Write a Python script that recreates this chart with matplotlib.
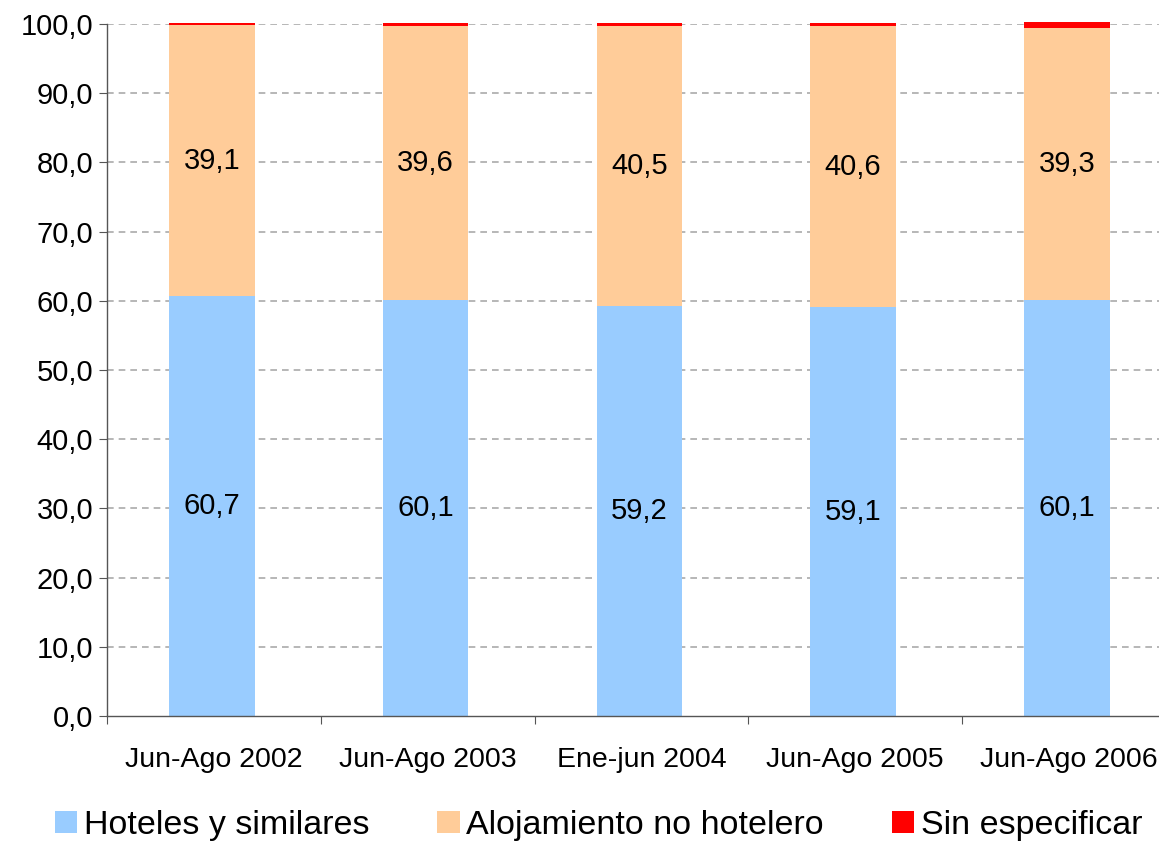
import matplotlib
matplotlib.use("Agg")
import matplotlib.pyplot as plt
import numpy as np
from matplotlib.patches import Patch

plt.rcParams['font.family'] = ['Liberation Sans', 'DejaVu Sans']

categories = ["Jun-Ago 2002", "Jun-Ago 2003", "Ene-jun 2004", "Jun-Ago 2005", "Jun-Ago 2006"]
hoteles = [60.7, 60.1, 59.2, 59.1, 60.1]
no_hotelero = [39.1, 39.6, 40.5, 40.6, 39.3]
sin_especificar = [0.4, 0.4, 0.4, 0.4, 0.9]
series_names = ["Hoteles y similares", "Alojamiento no hotelero", "Sin especificar"]
colors = ["#99CCFF", "#FFCC99", "#FF0000"]

fig = plt.figure(figsize=(11.59, 8.43), dpi=100)
ax = fig.add_axes([107/1159, 1-716/843, (1176-107)/1159, (716-24)/843])

x = np.arange(len(categories))
w = 0.4
h = np.array(hoteles)
n = np.array(no_hotelero)
s = np.array(sin_especificar)
ax.bar(x - 0.01, h, w, color=colors[0], zorder=2)
ax.bar(x - 0.01, n, w, bottom=h, color=colors[1], zorder=2)
ax.bar(x - 0.01, s, w, bottom=h + n, color=colors[2], zorder=2, clip_on=False)

for i in range(len(x)):
    ax.text(x[i] - 0.01, h[i] / 2, f"{h[i]:.1f}".replace('.', ','), ha='center', va='center', fontsize=21, zorder=3)
    ax.text(x[i] - 0.01, h[i] + n[i] / 2, f"{n[i]:.1f}".replace('.', ','), ha='center', va='center', fontsize=21, zorder=3)

ax.set_xlim(-0.5, len(categories) - 0.5)
ax.set_ylim(0, 100)
yt = np.arange(0, 101, 10)
ax.set_yticks(yt)
ax.set_yticklabels([f"{v:.1f}".replace('.', ',') for v in yt], fontsize=21)
for v in yt[1:]:
    ax.axhline(v, color='#AAAAAA', linestyle=(0, (4, 3)), linewidth=1.2, zorder=1)

ax.set_xticks(np.arange(len(categories) + 1) - 0.5, minor=False)
ax.set_xticklabels([])
ax.set_xticks(x, minor=True)
ax.set_xticklabels(categories, minor=True, fontsize=20.5)
ax.tick_params(axis='x', which='minor', length=0, pad=22)
ax.tick_params(axis='x', which='major', length=6, color='#555555', direction='out')
ax.tick_params(axis='y', length=6, color='#555555', direction='out', pad=4)

for sp in ['top', 'right']:
    ax.spines[sp].set_visible(False)
for sp in ['left', 'bottom']:
    ax.spines[sp].set_color('#555555')
    ax.spines[sp].set_linewidth(1.0)

handles = [Patch(facecolor=c, edgecolor='none') for c in colors]
fig.legend(handles, series_names, loc='lower left', bbox_to_anchor=(0.021, -0.034), ncol=3,
           frameon=False, fontsize=24.5, handlelength=0.65, handleheight=0.65,
           handletextpad=0.2, columnspacing=2.0)

fig.savefig("out.png", dpi=100)
